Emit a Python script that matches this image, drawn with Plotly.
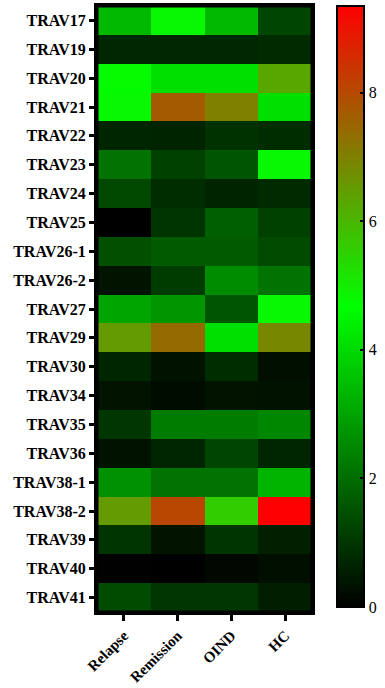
import plotly.graph_objects as go

genes = ["TRAV17", "TRAV19", "TRAV20", "TRAV21", "TRAV22", "TRAV23", "TRAV24",
         "TRAV25", "TRAV26-1", "TRAV26-2", "TRAV27", "TRAV29", "TRAV30", "TRAV34",
         "TRAV35", "TRAV36", "TRAV38-1", "TRAV38-2", "TRAV39", "TRAV40", "TRAV41"]
groups = ["Relapse", "Remission", "OIND", "HC"]

relapse = [3.39, 0.73, 4.75, 4.8, 0.70, 2.10, 1.32, 0.00, 1.47, 0.37, 3.02, 6.50,
           0.70, 0.37, 1.00, 0.33, 2.66, 6.50, 0.95, 0.02, 1.37]
remission = [4.8, 0.73, 4.10, 7.69, 0.64, 1.19, 0.82, 0.95, 1.65, 1.10, 2.75, 7.40,
             0.33, 0.22, 2.29, 0.70, 2.10, 8.06, 0.37, 0.00, 1.00]
oind = [3.39, 0.73, 4.10, 7.00, 0.92, 1.56, 0.64, 1.74, 1.65, 2.56, 1.56, 4.10,
        0.82, 0.37, 2.29, 1.28, 2.10, 5.60, 0.95, 0.15, 1.00]
hc = [1.28, 0.77, 6.28, 4.10, 0.82, 4.8, 0.77, 1.19, 1.37, 2.10, 4.8, 6.87,
      0.27, 0.33, 2.47, 0.70, 3.30, 9.35, 0.59, 0.27, 0.55]

z = [[relapse[i], remission[i], oind[i], hc[i]] for i in range(len(genes))]

SERIF = "Times New Roman, Liberation Serif, serif"

fig = go.Figure(go.Heatmap(
    z=z, x=groups, y=genes,
    zmin=0, zmax=9.35,
    colorscale=[[0, "rgb(0,0,0)"], [0.5, "rgb(0,255,0)"], [1, "rgb(255,0,0)"]],
    colorbar=dict(
        x=1.116, xanchor="left", y=1, yanchor="top", len=0.992, lenmode="fraction",
        xpad=0, ypad=0,
        thickness=27, outlinewidth=2, outlinecolor="black",
        tickvals=[0, 2, 4, 6, 8], ticks="inside", ticklen=5, tickwidth=1.5,
        tickcolor="black",
        tickfont=dict(family=SERIF, size=16, color="black"),
    ),
))

fig.add_shape(type="rect", xref="x domain", yref="y domain", x0=0, x1=1, y0=0, y1=1,
              line=dict(color="black", width=3), layer="above")

fig.update_layout(
    width=385, height=688,
    margin=dict(l=97, r=73, t=6, b=76, autoexpand=False),
    paper_bgcolor="white", plot_bgcolor="white",
    xaxis=dict(showline=True, mirror=True, linewidth=3, linecolor="black",
               ticks="outside", ticklen=6, tickwidth=3, tickcolor="black",
               tickangle=-45, layer="above traces",
               tickfont=dict(family=SERIF, size=15, color="black", weight="bold")),
    yaxis=dict(autorange="reversed", showline=True, mirror=True, linewidth=3,
               linecolor="black", ticks="outside", ticklen=5, tickwidth=3,
               tickcolor="black", layer="above traces",
               tickfont=dict(family=SERIF, size=16, color="black", weight="bold")),
)

fig.write_html("out.html", config={"displayModeBar": False},
               post_script="document.body.style.margin='0';")
